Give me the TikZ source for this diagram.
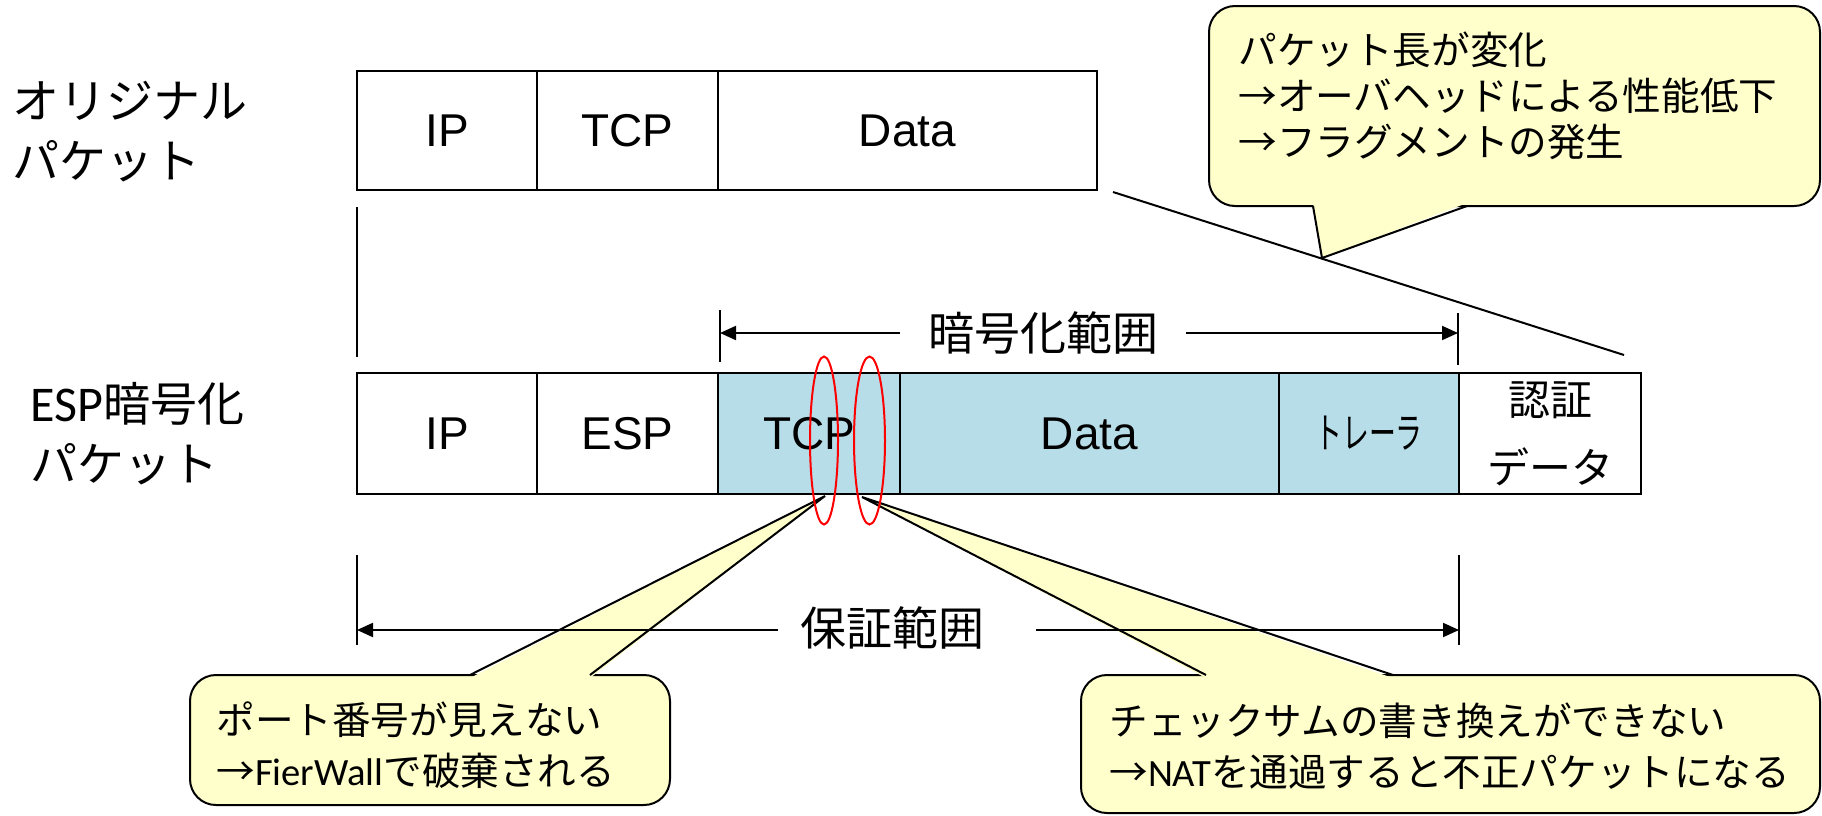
\documentclass[tikz,border=0pt]{standalone}
\usepackage{fontspec}
\setmainfont{Liberation Sans}
\newfontfamily\jp{Noto Sans CJK JP}
\newfontfamily\carl{Carlito}
\usepackage{xcolor}
\usetikzlibrary{arrows.meta, positioning, calc}

\definecolor{encblue}{RGB}{183,221,232}
\definecolor{noteyellow}{RGB}{255,255,204}

\tikzset{
  cell/.style={draw, line width=1pt, inner sep=0pt, outer sep=0pt, font=\fontsize{23}{26}\selectfont},
  enccell/.style={cell, fill=encblue},
  rangearrow/.style={line width=1pt, -{Triangle[length=8pt,width=7pt]}},
  tickline/.style={line width=1pt},
  ringmark/.style={draw=red, line width=1pt},
  callbox/.style={draw, line width=1pt, fill=noteyellow, rounded corners=13pt},
  callside/.style={line width=1pt, line join=miter},
  notetext/.style={font=\jp\fontsize{19.3}{25.5}\selectfont, align=left, inner sep=0pt, anchor=base west},
  sidelabel/.style={font=\jp\fontsize{23.5}{30}\selectfont, align=left, inner sep=0pt, anchor=west},
  rangetext/.style={font=\jp\fontsize{23}{26}\selectfont, inner sep=0pt},
}

\begin{document}
\begin{tikzpicture}[x=0.5pt, y=-0.5pt]
    \useasboundingbox (0,0) rectangle (1822,815);

    % callouts
    \coordinate (tipT) at (1322,258);
    \coordinate (tipL) at (825,496);
    \coordinate (tipR) at (862,497);

    \draw[callbox] (1209,6) rectangle (1820,206);
    \fill[noteyellow] (1313,203) -- (tipT) -- (1467,203) -- cycle;
    \draw[callside] (1313,206) -- (tipT) -- (1467,206);
    \node[notetext, font=\jp\fontsize{19.3}{23}\selectfont] (noteLen) at (1238,156) {パケット長が変化\\→オーバヘッドによる性能低下\\→フラグメントの発生};

    \draw[callbox] (190,675) rectangle (670,805);
    \fill[noteyellow] (470,678) -- (tipL) -- (590,678) -- cycle;
    \draw[callside] (470,675) -- (tipL) -- (590,675);
    \node[notetext] (notePort) at (216,785) {ポート番号が見えない\\→{\carl FierWall}で破棄される};

    \draw[callbox] (1081,675) rectangle (1820,813);
    \fill[noteyellow] (1206,678) -- (tipR) -- (1393,678) -- cycle;
    \draw[callside] (1206,675) -- (tipR) -- (1393,675);
    \node[notetext] (noteSum) at (1109,786) {チェックサムの書き換えができない\\→{\carl NAT}を通過すると不正パケットになる};

    % side labels
    \node[sidelabel] (lblOrig) at (12,132) {オリジナル\\パケット};
    \node[sidelabel] (lblEsp) at (30,434) {{\carl\fontsize{25}{30}\selectfont ESP}暗号化\\パケット};

    % original packet
    \node[cell, minimum width=90pt, minimum height=59.5pt] (oIP) at (447,130.5) {IP};
    \node[cell, minimum width=90.5pt, minimum height=59.5pt, right=0pt of oIP] (oTCP) {TCP};
    \node[cell, minimum width=189.5pt, minimum height=59.5pt, right=0pt of oTCP] (oData) {Data};

    % ESP packet
    \node[cell, minimum width=90pt, minimum height=60.5pt] (eIP) at (447,433.5) {IP};
    \node[cell, minimum width=90.5pt, minimum height=60.5pt, right=0pt of eIP] (eESP) {ESP};
    \node[enccell, minimum width=91pt, minimum height=60.5pt, right=0pt of eESP] (eTCP) {TCP};
    \node[enccell, minimum width=189.5pt, minimum height=60.5pt, right=0pt of eTCP] (eData) {Data};
    \node[enccell, minimum width=90pt, minimum height=60.5pt, right=0pt of eData] (eTrl) {\scalebox{0.64}[1]{\jp\fontsize{21}{24}\selectfont トレーラ}};
    \node[cell, minimum width=91pt, minimum height=60.5pt, right=0pt of eTrl, align=center,
          font=\jp\fontsize{21}{34}\selectfont] (eAuth) {認証\\データ};

    % length change guides
    \draw[tickline] (357,207) -- (357,357);
    \draw[tickline] (1113,192) -- (1624,355);

    % encryption range
    \draw[tickline] (720,310) -- (720,362);
    \draw[tickline] (1458,313) -- (1458,365);
    \coordinate (encL) at (720,333);
    \coordinate (encR) at (1458,333);
    \node[rangetext, inner xsep=14pt] (encTxt) at (1043,333) {暗号化範囲};
    \draw[rangearrow] (encTxt.west) -- (encL);
    \draw[rangearrow] (encTxt.east) -- (encR);

    % integrity range
    \draw[tickline] (357,555) -- (357,645);
    \draw[tickline] (1459,555) -- (1459,645);
    \coordinate (guarL) at (357,630);
    \coordinate (guarR) at (1459,630);
    \coordinate (guarGapL) at (778,630);
    \coordinate (guarGapR) at (1036,630);
    \node[rangetext] (guarTxt) at (892,628) {保証範囲};
    \draw[rangearrow] (guarGapL) -- (guarL);
    \draw[rangearrow] (guarGapR) -- (guarR);

    % hidden TCP fields
    \draw[ringmark] (824,440.5) ellipse [x radius=14, y radius=84];
    \draw[ringmark] (869.5,440.5) ellipse [x radius=15.5, y radius=84];
\end{tikzpicture}
\end{document}
